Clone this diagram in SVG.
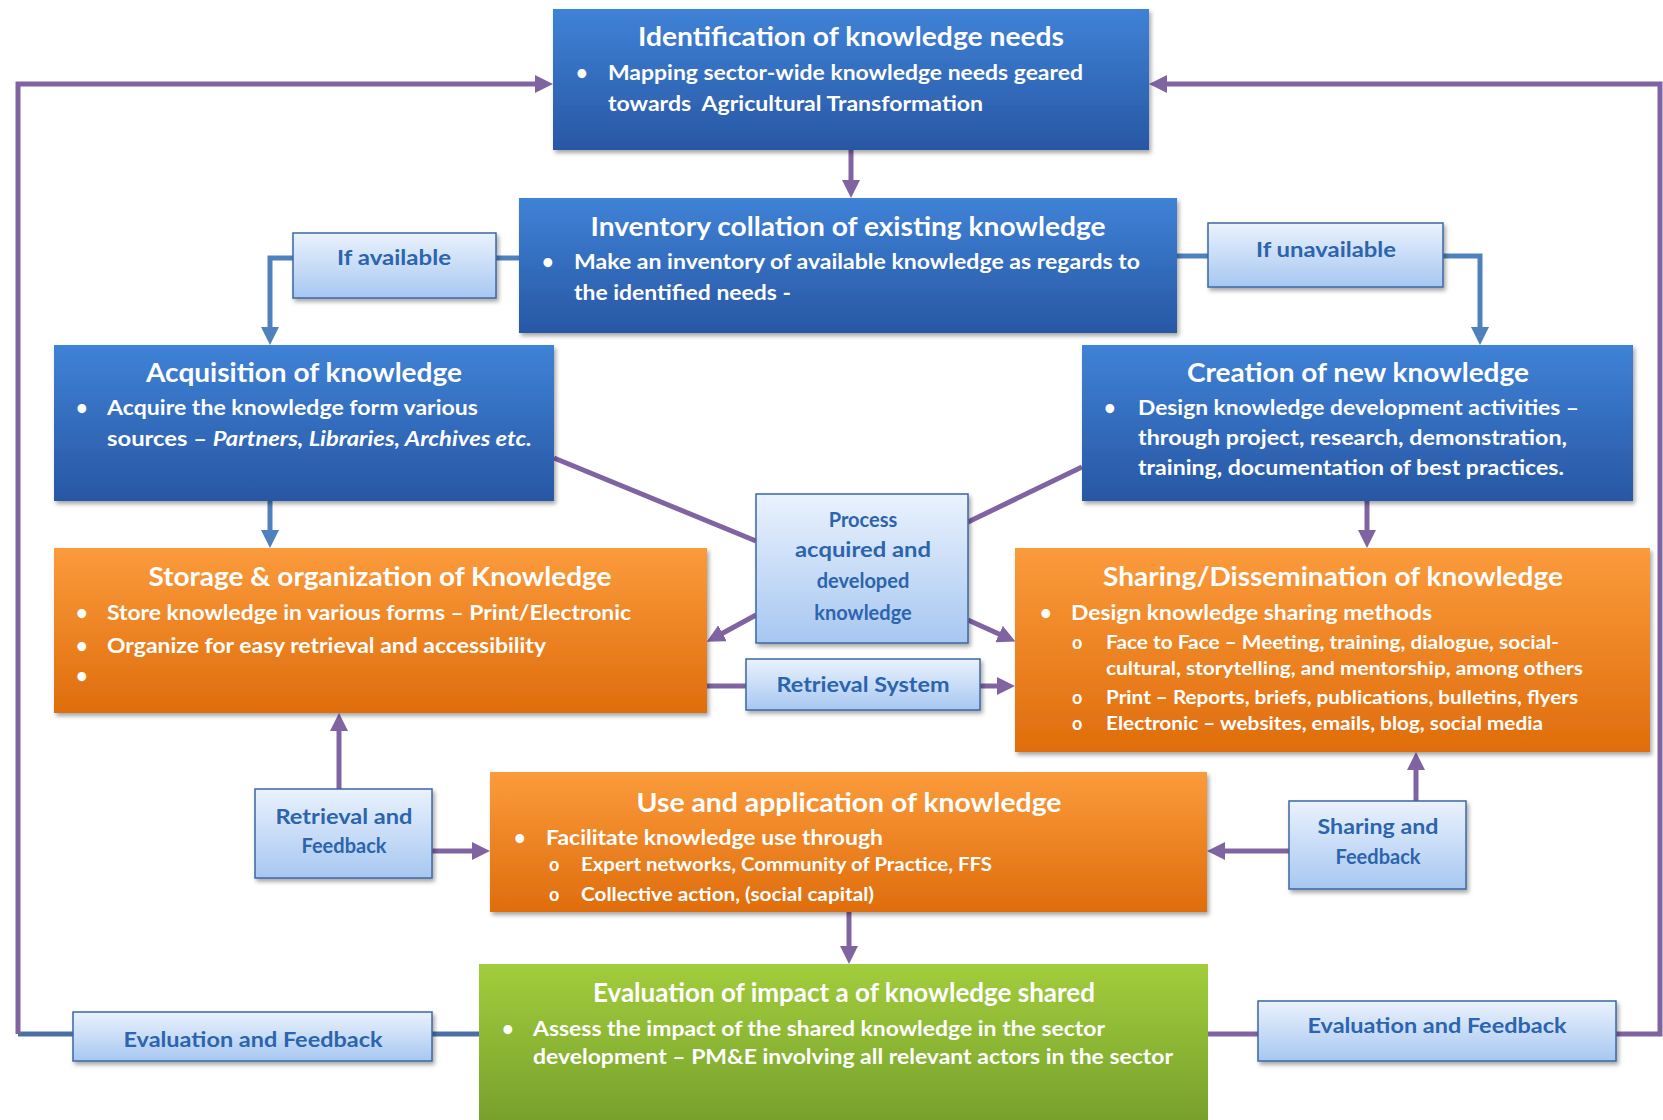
<svg xmlns="http://www.w3.org/2000/svg" width="1663" height="1120" viewBox="0 0 1663 1120">
<defs>
<linearGradient id="gBlue" x1="0" y1="0" x2="0" y2="1"><stop offset="0" stop-color="#3f82d6"/><stop offset="1" stop-color="#2857a4"/></linearGradient>
<linearGradient id="gOrange" x1="0" y1="0" x2="0" y2="1"><stop offset="0" stop-color="#fb9b3c"/><stop offset="1" stop-color="#df6d0c"/></linearGradient>
<linearGradient id="gGreen" x1="0" y1="0" x2="0" y2="1"><stop offset="0" stop-color="#a2cd3c"/><stop offset="1" stop-color="#76a02c"/></linearGradient>
<linearGradient id="gLight" x1="0" y1="0" x2="0" y2="1"><stop offset="0" stop-color="#eaf2fd"/><stop offset="1" stop-color="#a7c7f1"/></linearGradient>
<filter id="sh" x="-10%" y="-10%" width="120%" height="130%"><feDropShadow dx="2" dy="3" stdDeviation="2" flood-color="#000" flood-opacity="0.35"/></filter>
<marker id="aP" viewBox="0 0 18 18" markerWidth="18" markerHeight="18" refX="12" refY="9" orient="auto" markerUnits="userSpaceOnUse"><path d="M0,0 L18,9 L0,18 z" fill="#8064a2"/></marker>
<marker id="aB" viewBox="0 0 18 18" markerWidth="18" markerHeight="18" refX="12" refY="9" orient="auto" markerUnits="userSpaceOnUse"><path d="M0,0 L18,9 L0,18 z" fill="#4f81bd"/></marker>
</defs>
<style>
text{font-family:Lato,"Liberation Sans",sans-serif;font-weight:bold}
.t{fill:#fff;font-size:26px;text-anchor:middle}
.b{fill:#fff;font-size:20px}
.s{fill:#fff;font-size:18px}
.l{fill:#2c64ad;font-size:20px;text-anchor:middle}
.blue{fill:url(#gBlue)}
.orange{fill:url(#gOrange)}
.green{fill:url(#gGreen)}
.light{fill:url(#gLight);stroke:#3d67a3;stroke-width:1.5}
.cp{fill:none;stroke:#8064a2;stroke-width:5}
.cb{fill:none;stroke:#4f81bd;stroke-width:5}
.cs{fill:none;stroke:#4a6fa5;stroke-width:5}
</style>
<rect width="1663" height="1120" fill="#fff"/>
<g id="connectors">
<path class="cp" d="M851 150 V192" marker-end="url(#aP)"/>
<path class="cs" d="M479 1034 H18"/>
<path class="cp" d="M18 1034 V84 H547" marker-end="url(#aP)"/>
<path class="cp" d="M1208 1034 H1660 V84 H1155" marker-end="url(#aP)"/>
<path class="cb" d="M519 258 H496"/>
<path class="cb" d="M293 258 H270 V339" marker-end="url(#aB)"/>
<path class="cb" d="M1177 256 H1208"/>
<path class="cb" d="M1443 256 H1480 V339" marker-end="url(#aB)"/>
<path class="cb" d="M270 501 V542" marker-end="url(#aB)"/>
<path class="cp" d="M1367 501 V542" marker-end="url(#aP)"/>
<path class="cp" d="M554 458 L756 541"/>
<path class="cp" d="M1082 467 L968 522"/>
<path class="cp" d="M756 615 L712 639" marker-end="url(#aP)"/>
<path class="cp" d="M968 620 L1010 639" marker-end="url(#aP)"/>
<path class="cp" d="M707 686 H746"/>
<path class="cp" d="M980 686 H1009" marker-end="url(#aP)"/>
<path class="cp" d="M339 789 V719" marker-end="url(#aP)"/>
<path class="cp" d="M432 851 H484" marker-end="url(#aP)"/>
<path class="cp" d="M1289 851 H1213" marker-end="url(#aP)"/>
<path class="cp" d="M1416 801 V758" marker-end="url(#aP)"/>
<path class="cp" d="M849 912 V958" marker-end="url(#aP)"/>
</g>
<g id="identification">
<rect class="blue" x="553" y="9" width="596" height="141" filter="url(#sh)"/>
<text class="t" x="851" y="46" textLength="426" lengthAdjust="spacingAndGlyphs">Identification of knowledge needs</text>
<text class="b" x="576" y="80">•</text>
<text class="b" x="608" y="80" font-size="21" textLength="475" lengthAdjust="spacingAndGlyphs">Mapping sector-wide knowledge needs geared</text>
<text class="b" x="608" y="111" font-size="21" textLength="375" lengthAdjust="spacingAndGlyphs" style="white-space:pre">towards  Agricultural Transformation</text>
</g>
<g id="inventory">
<rect class="blue" x="519" y="198" width="658" height="135" filter="url(#sh)"/>
<text class="t" x="848" y="236" textLength="515" lengthAdjust="spacingAndGlyphs">Inventory collation of existing knowledge</text>
<text class="b" x="542" y="269">•</text>
<text class="b" x="574" y="269" font-size="21" textLength="566" lengthAdjust="spacingAndGlyphs">Make an inventory of available knowledge as regards to</text>
<text class="b" x="574" y="300" font-size="21" textLength="217" lengthAdjust="spacingAndGlyphs">the identified needs -</text>
</g>
<g id="if-available">
<rect class="light" x="293" y="233" width="203" height="65" filter="url(#sh)"/>
<text class="l" x="394" y="265" textLength="114" lengthAdjust="spacingAndGlyphs">If available</text>
</g>
<g id="if-unavailable">
<rect class="light" x="1208" y="223" width="235" height="64" filter="url(#sh)"/>
<text class="l" x="1326" y="257" textLength="140" lengthAdjust="spacingAndGlyphs">If unavailable</text>
</g>
<g id="acquisition">
<rect class="blue" x="54" y="345" width="500" height="156" filter="url(#sh)"/>
<text class="t" x="304" y="382" textLength="316" lengthAdjust="spacingAndGlyphs">Acquisition of knowledge</text>
<text class="b" x="76" y="415">•</text>
<text class="b" x="107" y="415" font-size="21" textLength="371" lengthAdjust="spacingAndGlyphs">Acquire the knowledge form various</text>
<text class="b" x="107" y="446" font-size="21" textLength="425" lengthAdjust="spacingAndGlyphs">sources – <tspan font-style="italic">Partners, Libraries, Archives etc.</tspan></text>
</g>
<g id="creation">
<rect class="blue" x="1082" y="345" width="551" height="156" filter="url(#sh)"/>
<text class="t" x="1358" y="382" textLength="342" lengthAdjust="spacingAndGlyphs">Creation of new knowledge</text>
<text class="b" x="1104" y="415">•</text>
<text class="b" x="1138" y="415" font-size="21" textLength="441" lengthAdjust="spacingAndGlyphs">Design knowledge development activities –</text>
<text class="b" x="1138" y="445" font-size="21" textLength="429" lengthAdjust="spacingAndGlyphs">through project, research, demonstration,</text>
<text class="b" x="1138" y="475" font-size="21" textLength="426" lengthAdjust="spacingAndGlyphs">training, documentation of best practices.</text>
</g>
<g id="process">
<rect class="light" x="756" y="494" width="212" height="149" filter="url(#sh)"/>
<text class="l" x="863" y="527" font-size="21">Process</text>
<text class="l" x="863" y="557" font-size="21" textLength="136" lengthAdjust="spacingAndGlyphs">acquired and</text>
<text class="l" x="863" y="588" font-size="21">developed</text>
<text class="l" x="863" y="620" font-size="21">knowledge</text>
</g>
<g id="storage">
<rect class="orange" x="54" y="548" width="653" height="165" filter="url(#sh)"/>
<text class="t" x="380" y="586" textLength="463" lengthAdjust="spacingAndGlyphs">Storage &amp; organization of Knowledge</text>
<text class="b" x="76" y="620">•</text>
<text class="b" x="107" y="620" textLength="524" lengthAdjust="spacingAndGlyphs">Store knowledge in various forms – Print/Electronic</text>
<text class="b" x="76" y="653">•</text>
<text class="b" x="107" y="653" textLength="439" lengthAdjust="spacingAndGlyphs">Organize for easy retrieval and accessibility</text>
<text class="b" x="76" y="683">•</text>
</g>
<g id="sharing">
<rect class="orange" x="1015" y="548" width="635" height="204" filter="url(#sh)"/>
<text class="t" x="1333" y="586" textLength="460" lengthAdjust="spacingAndGlyphs">Sharing/Dissemination of knowledge</text>
<text class="b" x="1040" y="620">•</text>
<text class="b" x="1071" y="620" textLength="361" lengthAdjust="spacingAndGlyphs">Design knowledge sharing methods</text>
<text class="s" x="1072" y="649">o</text>
<text class="s" x="1106" y="649" textLength="453" lengthAdjust="spacingAndGlyphs">Face to Face – Meeting, training, dialogue, social-</text>
<text class="s" x="1106" y="675" textLength="477" lengthAdjust="spacingAndGlyphs">cultural, storytelling, and mentorship, among others</text>
<text class="s" x="1072" y="704">o</text>
<text class="s" x="1106" y="704" textLength="472" lengthAdjust="spacingAndGlyphs">Print – Reports, briefs, publications, bulletins, flyers</text>
<text class="s" x="1072" y="730">o</text>
<text class="s" x="1106" y="730" textLength="437" lengthAdjust="spacingAndGlyphs">Electronic – websites, emails, blog, social media</text>
</g>
<g id="retrieval-system">
<rect class="light" x="746" y="659" width="234" height="51" filter="url(#sh)"/>
<text class="l" x="863" y="692" textLength="173" lengthAdjust="spacingAndGlyphs">Retrieval System</text>
</g>
<g id="use">
<rect class="orange" x="490" y="772" width="717" height="140" filter="url(#sh)"/>
<text class="t" x="849" y="812" textLength="425" lengthAdjust="spacingAndGlyphs">Use and application of knowledge</text>
<text class="b" x="514" y="845">•</text>
<text class="b" x="546" y="845" textLength="337" lengthAdjust="spacingAndGlyphs">Facilitate knowledge use through</text>
<text class="s" x="549" y="871">o</text>
<text class="s" x="581" y="871" textLength="411" lengthAdjust="spacingAndGlyphs">Expert networks, Community of Practice, FFS</text>
<text class="s" x="549" y="901">o</text>
<text class="s" x="581" y="901" textLength="293" lengthAdjust="spacingAndGlyphs">Collective action, (social capital)</text>
</g>
<g id="retrieval-feedback">
<rect class="light" x="255" y="789" width="177" height="89" filter="url(#sh)"/>
<text class="l" x="344" y="824" textLength="137" lengthAdjust="spacingAndGlyphs">Retrieval and</text>
<text class="l" x="344" y="853">Feedback</text>
</g>
<g id="sharing-feedback">
<rect class="light" x="1289" y="801" width="177" height="88" filter="url(#sh)"/>
<text class="l" x="1378" y="834" textLength="121" lengthAdjust="spacingAndGlyphs">Sharing and</text>
<text class="l" x="1378" y="864">Feedback</text>
</g>
<g id="evaluation">
<rect class="green" x="479" y="964" width="729" height="160"/>
<text class="t" x="844" y="1002" font-size="25" textLength="502" lengthAdjust="spacingAndGlyphs">Evaluation of impact a of knowledge shared</text>
<text class="b" x="502" y="1036">•</text>
<text class="b" x="533" y="1036" textLength="572" lengthAdjust="spacingAndGlyphs">Assess the impact of the shared knowledge in the sector</text>
<text class="b" x="533" y="1064" textLength="640" lengthAdjust="spacingAndGlyphs">development – PM&amp;E involving all relevant actors in the sector</text>
</g>
<g id="eval-feedback-left">
<rect class="light" x="73" y="1012" width="359" height="49" filter="url(#sh)"/>
<text class="l" x="253" y="1047" textLength="259" lengthAdjust="spacingAndGlyphs">Evaluation and Feedback</text>
</g>
<g id="eval-feedback-right">
<rect class="light" x="1258" y="1001" width="358" height="60" filter="url(#sh)"/>
<text class="l" x="1437" y="1033" textLength="259" lengthAdjust="spacingAndGlyphs">Evaluation and Feedback</text>
</g>
</svg>
